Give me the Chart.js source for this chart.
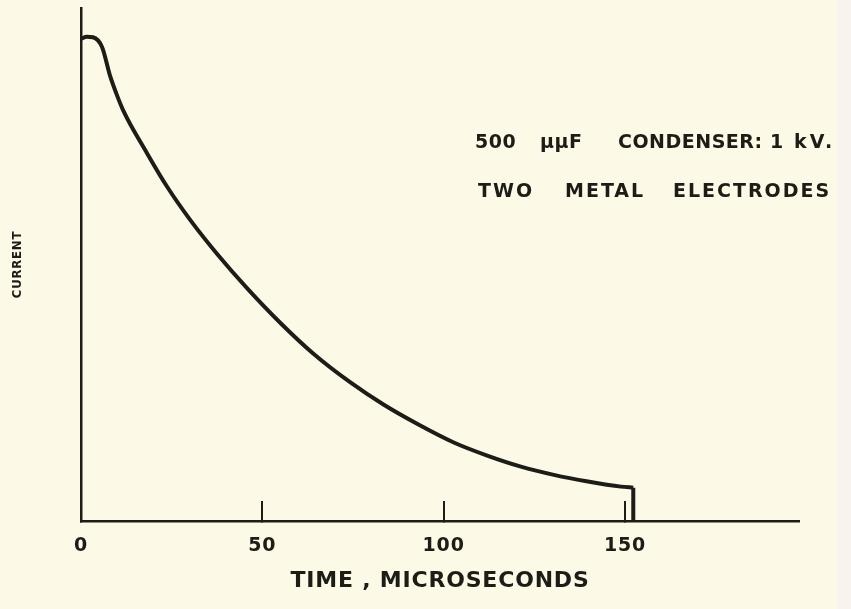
<!DOCTYPE html>
<html lang="en">
<head>
  <meta charset="UTF-8" />
  <title>Condenser discharge current</title>
  <script src="https://cdn.jsdelivr.net/npm/chart.js"></script>
  <style>
    html, body {
      margin: 0;
      padding: 0;
      background: linear-gradient(to right, #fcfae6 0, #fcfae6 836px, #f9f3ef 839px);
    }
    .chart {
      position: relative;
      width: 851px;
      height: 609px;
    }
  </style>
</head>
<body>
  <div class="chart"><canvas id="currentChart"></canvas></div>

  <script>
    // time in microseconds, current in arbitrary units (axis top = 100)
    const times    = [0, 1.6, 3.3, 5.8, 8.0, 9.7, 11.6, 18.2, 23.8, 30.1, 37.6, 45.9, 55.0, 64.1, 74.3, 83.4, 92.8, 102.8, 112.2, 121.3, 130.4, 139.8, 148.9, 152.3];
    const currents = [94.0, 94.4, 94.3, 92.4, 86.8, 83.4, 80.1, 71.7, 65.1, 58.7, 52.0, 45.3, 38.6, 32.6, 27.0, 22.7, 18.9, 15.3, 12.7, 10.6, 9.0, 7.7, 6.7, 6.5];
    // sudden cut-off at the end of the pulse
    const cutTimes    = [152.3, 152.3];
    const cutCurrents = [6.5, 0];

    const xTicks = [0, 50, 100, 150];
    const xMax = 198;
    const yMax = 100;

    // annotation words with their left edge in px
    const noteLine1 = [['500', 475, 0.5], ['\u03bc\u03bcF', 540, 0.5], ['CONDENSER:', 618, 0.5], ['1', 770, 0.5], ['kV.', 794, 3]];
    const noteLine2 = [['TWO', 478, 2], ['METAL', 565, 2], ['ELECTRODES', 673, 2]];

    const ink = '#1d1c17';
    const fontFamily = "'DejaVu Sans', sans-serif";

    const notes = {
      id: 'notes',
      beforeDraw(chart) {
        chart.ctx.letterSpacing = '0.8px';
      },
      afterDraw(chart) {
        const ctx = chart.ctx;
        ctx.save();
        ctx.fillStyle = ink;
        ctx.font = 'bold 19px ' + fontFamily;
        ctx.textAlign = 'left';
        ctx.textBaseline = 'alphabetic';
        noteLine1.forEach(([w, x, s]) => { ctx.letterSpacing = s + 'px'; ctx.fillText(w, x, 148); });
        noteLine2.forEach(([w, x, s]) => { ctx.letterSpacing = s + 'px'; ctx.fillText(w, x, 197); });
        ctx.restore();
      }
    };

    new Chart(document.getElementById('currentChart'), {
      type: 'line',
      data: {
        datasets: [{
          data: times.map((t, i) => ({ x: t, y: currents[i] })),
          borderColor: ink,
          borderWidth: 4,
          pointRadius: 0,
          cubicInterpolationMode: 'monotone',
          clip: 6
        }, {
          data: cutTimes.map((t, i) => ({ x: t, y: cutCurrents[i] })),
          borderColor: ink,
          borderWidth: 4,
          pointRadius: 0,
          tension: 0,
          clip: 6
        }]
      },
      options: {
        responsive: true,
        maintainAspectRatio: false,
        animation: false,
        layout: { padding: { top: 8, right: 52, left: 0, bottom: 0 } },
        plugins: {
          legend: { display: false },
          tooltip: { enabled: false }
        },
        scales: {
          x: {
            type: 'linear',
            min: 0,
            max: xMax,
            afterBuildTicks: scale => { scale.ticks = xTicks.map(v => ({ value: v })); },
            afterFit: scale => { scale.height = 88; },
            grid: {
              display: true,
              drawOnChartArea: false,
              drawTicks: true,
              tickLength: -20,
              color: ink,
              lineWidth: 2
            },
            border: { display: true, color: ink, width: 2.5 },
            ticks: {
              color: ink,
              padding: 34,
              maxRotation: 0,
              font: { family: fontFamily, size: 19, weight: 'bold' }
            },
            title: {
              display: true,
              text: 'TIME , MICROSECONDS',
              color: ink,
              padding: { top: 0, bottom: 15 },
              font: { family: fontFamily, size: 22, weight: 'bold' }
            }
          },
          y: {
            min: 0,
            max: yMax,
            afterFit: scale => { scale.width = 81; },
            grid: { display: false },
            border: { display: true, color: ink, width: 2.5 },
            ticks: { display: false },
            title: {
              display: true,
              text: 'CURRENT',
              color: ink,
              padding: { top: 10, bottom: 0 },
              font: { family: "'Liberation Sans Narrow', 'DejaVu Sans Condensed', 'DejaVu Sans', sans-serif", size: 13, weight: 'bold' }
            }
          }
        }
      },
      plugins: [notes]
    });
  </script>
</body>
</html>
